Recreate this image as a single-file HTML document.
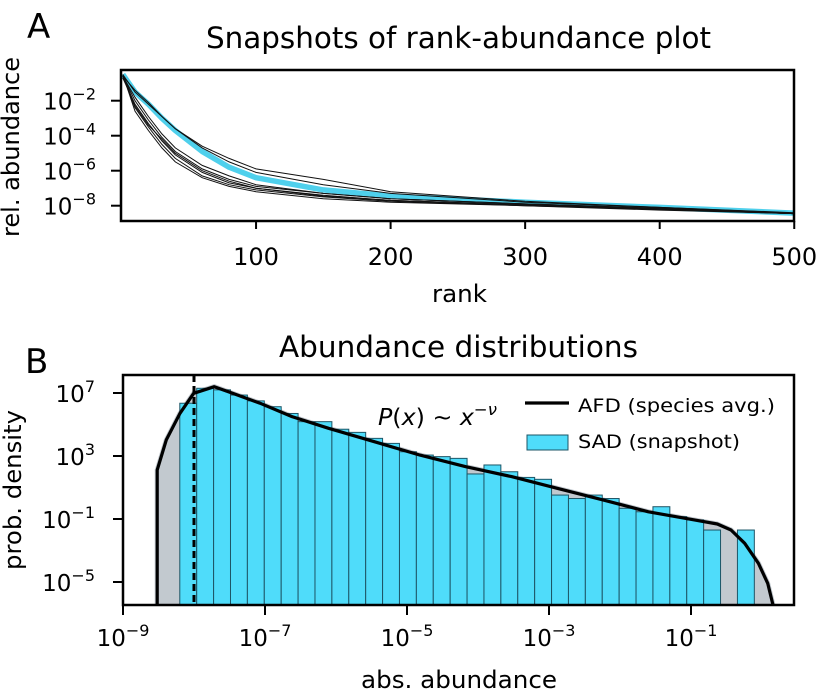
<!DOCTYPE html>
<html><head><meta charset="utf-8"><style>
html,body{margin:0;padding:0;background:#fff;}
svg{display:block;font-family:"DejaVu Sans","Liberation Sans",sans-serif;}
</style></head><body>
<svg id="fig" width="817" height="691" viewBox="0 0 817 691" xmlns="http://www.w3.org/2000/svg">
<text x="27" y="38" font-size="34">A</text>
<text x="206" y="48" font-size="29" textLength="505" lengthAdjust="spacingAndGlyphs">Snapshots of rank-abundance plot</text>
<text transform="translate(19,147) rotate(-90)" font-size="24" text-anchor="middle" textLength="180" lengthAdjust="spacingAndGlyphs">rel. abundance</text>
<text x="432" y="302" font-size="24" textLength="55" lengthAdjust="spacingAndGlyphs">rank</text>
<g id="gA"></g>
<text x="25" y="373" font-size="34">B</text>
<text x="279" y="357" font-size="29" textLength="359" lengthAdjust="spacingAndGlyphs">Abundance distributions</text>
<text transform="translate(21,490) rotate(-90)" font-size="24" text-anchor="middle" textLength="160" lengthAdjust="spacingAndGlyphs">prob. density</text>
<text x="361" y="688" font-size="24" textLength="196" lengthAdjust="spacingAndGlyphs">abs. abundance</text>
<g id="gB"></g>
</svg>
<script>
// Panel A data
const ranks = [1,10,20,30,40,60,80,100,150,200,300,400,500];
const cyanSeries = [-0.5,-1.5,-2.2,-3.0,-3.7,-4.9,-5.8,-6.4,-7.1,-7.45,-7.8,-8.1,-8.42];
const black1 = [-0.6,-1.4,-2.1,-2.9,-3.6,-4.6,-5.3,-5.9,-6.5,-7.2,-7.75,-8.1,-8.4];
const black2 = [-0.5,-1.5,-2.2,-2.9,-3.6,-4.7,-5.5,-6.1,-6.8,-7.3,-7.8,-8.1,-8.42];
const black3 = [-0.6,-2.0,-3.1,-4.1,-4.9,-5.9,-6.5,-6.9,-7.3,-7.6,-7.9,-8.15,-8.45];
const black4 = [-0.7,-2.2,-3.3,-4.3,-5.1,-6.1,-6.7,-7.0,-7.45,-7.7,-7.95,-8.2,-8.45];
const black5 = [-0.6,-2.4,-3.5,-4.5,-5.3,-6.3,-6.8,-7.1,-7.5,-7.75,-8.0,-8.2,-8.45];
const black6 = [-0.5,-2.6,-3.7,-4.7,-5.5,-6.4,-6.9,-7.2,-7.6,-7.8,-8.0,-8.25,-8.45];
const black7 = [-0.6,-1.8,-2.9,-3.9,-4.7,-5.7,-6.3,-6.8,-7.3,-7.6,-7.9,-8.15,-8.45];
const black8 = [-0.5,-2.3,-3.4,-4.2,-5.0,-6.0,-6.6,-7.0,-7.4,-7.7,-7.95,-8.2,-8.45];
const aXTicks = [100,200,300,400,500];
const aYTicks = [-2,-4,-6,-8];
// Panel B data
const binStart = -8.2;
const binWidth = 0.238;
const barLogHeights = [6.35,7.3,7.2,6.87,6.5,6.13,5.7,5.18,5.18,4.7,4.5,4.12,3.8,3.27,3.06,2.96,2.85,1.86,2.43,2.0,1.64,1.52,0.52,0.3,0.52,0.3,-0.32,-0.54,-0.22,-0.85,-1.06,-1.7,null,-1.7];
const afdLogX = [-8.518,-8.518,-8.39,-8.197,-8.004,-7.714,-7.456,-7.07,-6.62,-6.104,-5.46,-4.817,-4.172,-3.528,-2.884,-2.24,-1.6,-0.952,-0.63,-0.436,-0.244,-0.05,0.08,0.155];
const afdLogY = [-6.46,2.11,4.02,5.71,6.98,7.4,6.98,6.35,5.5,4.76,3.91,3.06,2.32,1.69,0.95,0.21,-0.54,-1.06,-1.32,-1.70,-2.54,-3.81,-5.08,-6.46];
const cutoffLogX = -8.0;
const bXTicks = [-9,-7,-5,-3,-1];
const bYTicks = [7,3,-1,-5];

const NS="http://www.w3.org/2000/svg";
function mk(tag, parent, attrs){const e=document.createElementNS(NS,tag);for(const k in attrs)e.setAttribute(k,attrs[k]);parent.appendChild(e);return e;}
function supLabel(parent,x,y,exp,anchor){
  const t=mk('text',parent,{x:x,y:y,'font-size':23,'text-anchor':anchor});
  
  
  t.appendChild(document.createTextNode('10'));
  const s=document.createElementNS(NS,'tspan');s.setAttribute('dy','-10');s.setAttribute('font-size','16');
  s.textContent=(exp<0?'\u2212':'')+Math.abs(exp);t.appendChild(s);
  return t;
}
function pathFor(xs,ys,fx,fy){return xs.map((x,i)=>(i?'L':'M')+fx(x).toFixed(1)+','+fy(ys[i]).toFixed(1)).join('');}
// ---- Panel A ----
const gA=document.getElementById('gA');
const aL=121,aR=794,aT=70,aB=221;
const ax=r=>121.5+r*1.3455;
const ay=v=>100.7-(v+2)*17.5;
const sers=[black1,black2,black3,black4,black5,black6,black7,black8];
const clipA=mk('clipPath',gA,{id:'clipA'});mk('rect',clipA,{x:aL,y:aT,width:aR-aL,height:aB-aT});
const lines=mk('g',gA,{'clip-path':'url(#clipA)'});


const cp=mk('path',lines,{d:pathFor(ranks,cyanSeries,ax,ay),fill:'none',stroke:'#4fd0ec','stroke-width':5.5,'stroke-linejoin':'round'});


sers.forEach((s,i)=>{const p=mk('path',lines,{d:pathFor(ranks,s,ax,ay),fill:'none',stroke:'#111','stroke-width':1});

});
const fA=mk('rect',gA,{x:aL,y:aT,width:aR-aL,height:aB-aT,fill:'none',stroke:'#000','stroke-width':2.5});


aXTicks.forEach(t=>{const x=ax(t);mk('line',gA,{x1:x,x2:x,y1:aB,y2:aB+8,stroke:'#000','stroke-width':2});
const tx=mk('text',gA,{x:x,y:265,'font-size':24,'text-anchor':'middle'});tx.textContent=t;

});
aYTicks.forEach(t=>{const y=ay(t);mk('line',gA,{x1:aL-10,x2:aL,y1:y,y2:y,stroke:'#000','stroke-width':2});
supLabel(gA,96,y+9,t,'end');});
// ---- Panel B ----
const gB=document.getElementById('gB');
const bL=123,bR=794,bT=375,bB=605;
const bx=v=>123+(v+9)*71;
const by=v=>393-(v-7)*15.75;
const clipB=mk('clipPath',gB,{id:'clipB'});mk('rect',clipB,{x:bL,y:bT,width:bR-bL,height:bB-bT});
const inner=mk('g',gB,{'clip-path':'url(#clipB)'});
const gray=mk('path',inner,{d:pathFor(afdLogX,afdLogY,bx,by)+'Z',fill:'#c2c9cf',stroke:'#c2c9cf','stroke-width':5});


barLogHeights.forEach((h,i)=>{if(h===null)return;const x0=bx(binStart+i*binWidth),x1=bx(binStart+(i+1)*binWidth);
const r=mk('rect',inner,{x:x0,y:by(h),width:x1-x0,height:bB-by(h),fill:'#4fdcfa',stroke:'#1d5566','stroke-width':1});

});
const dl=mk('line',inner,{x1:bx(cutoffLogX),x2:bx(cutoffLogX),y1:bT,y2:bB,stroke:'#000','stroke-width':3,'stroke-dasharray':'7,4'});


const afd=mk('path',inner,{d:pathFor(afdLogX,afdLogY,bx,by),fill:'none',stroke:'#000','stroke-width':3.2,'stroke-linejoin':'round'});


const fB=mk('rect',gB,{x:bL,y:bT,width:bR-bL,height:bB-bT,fill:'none',stroke:'#000','stroke-width':2.5});


bXTicks.forEach(t=>{const x=bx(t);mk('line',gB,{x1:x,x2:x,y1:bB,y2:bB+10,stroke:'#000','stroke-width':2});
supLabel(gB,x,646,t,'middle');});
bYTicks.forEach(t=>{const y=by(t);mk('line',gB,{x1:bL-10,x2:bL,y1:y,y2:y,stroke:'#000','stroke-width':2});
supLabel(gB,95,y+9,t,'end');});
// annotation
const ann=mk('text',gB,{x:378,y:425,'font-size':23,'font-style':'italic',textLength:119,lengthAdjust:'spacingAndGlyphs'});


ann.innerHTML='P<tspan font-style="normal">(</tspan>x<tspan font-style="normal">) ~ </tspan>x<tspan dy="-10" font-size="16">\u2212\u03bd</tspan>';
// legend
const lg=mk('g',gB,{});


mk('line',lg,{x1:525,x2:569,y1:403,y2:403,stroke:'#000','stroke-width':3.2});
const lt1=mk('text',lg,{x:578,y:412,'font-size':19,textLength:197,lengthAdjust:'spacingAndGlyphs'});lt1.textContent='AFD (species avg.)';


mk('rect',lg,{x:527,y:435,width:41,height:15,fill:'#4fdcfa',stroke:'#1d5566','stroke-width':1});
const lt2=mk('text',lg,{x:578,y:448,'font-size':19,textLength:162,lengthAdjust:'spacingAndGlyphs'});lt2.textContent='SAD (snapshot)';


</script>
</body></html>
